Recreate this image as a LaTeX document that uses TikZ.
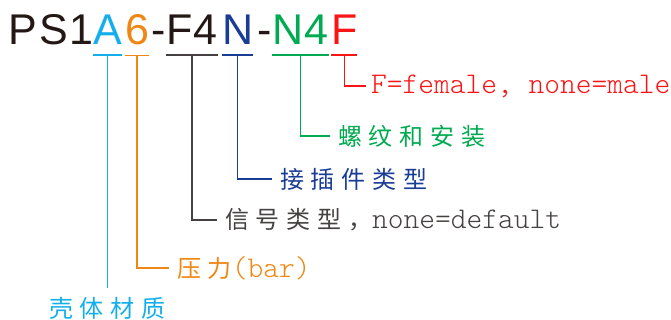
\documentclass[tikz,border=0pt]{standalone}
\usepackage{fontspec}
\newfontfamily\titlefont[LetterSpace=4]{Liberation Sans}
\newfontfamily\cjk[LetterSpace=28]{Noto Sans CJK SC}
\newfontfamily\monolt{Latin Modern Mono Light}
\newcommand\lat[1]{{\monolt\fontsize{30}{30}\selectfont #1}}
\definecolor{cink}{RGB}{35,24,21}
\definecolor{cgray}{RGB}{70,65,65}
\definecolor{ccyan}{RGB}{20,175,235}
\definecolor{corange}{RGB}{240,135,20}
\definecolor{cnavy}{RGB}{25,60,150}
\definecolor{cgreen}{RGB}{0,170,80}
\definecolor{cred}{RGB}{250,20,20}
\tikzset{
 seg/.style={inner sep=0pt,outer sep=0pt,anchor=base west,
  font=\titlefont\fontsize{43}{43}\selectfont},
 lbl/.style={inner xsep=8pt,inner ysep=2pt,anchor=west,
  font=\cjk\fontsize{24}{24}\selectfont},
 link/.style={line width=1.2pt}
}
\begin{document}
\begin{tikzpicture}[x=1pt,y=-1pt]
 \useasboundingbox (0,0) rectangle (671,320);
 % title code
 \node[seg,text=cink] (tPS) at (9,45) {PS1};
 \node[seg,text=ccyan] (tA) at (93,45) {A};
 \node[seg,text=corange] (t6) at (125,45) {6};
 \node[seg,text=cink] (tD1) at (151,45) {-};
 \node[seg,text=cink] (tF4) at (166,45) {F4};
 \node[seg,text=cnavy] (tN) at (222,45) {N};
 \node[seg,text=cink] (tD2) at (257,45) {-};
 \node[seg,text=cgreen] (tN4) at (272,45) {N4};
 \node[seg,text=cred] (tF) at (331,45) {F};
 % underlines
 \foreach \s/\c in {A/ccyan,6/corange,F4/cgray,N/cnavy,N4/cgreen,F/cred}{
  \draw[link,\c] ([yshift=-10pt]t\s.south west) -- ([yshift=-10pt]t\s.south east);
  \coordinate (u\s) at ([yshift=-10pt]t\s.south);
 }
 % labels
 \node[lbl,inner xsep=5pt,text=cred] (lF) at (366,86) {\lat{F=female, none=male}};
 \node[lbl,text=cgreen] (lN4) at (330,136) {螺纹和安装};
 \node[lbl,text=cnavy] (lN) at (272,179) {接插件类型};
 \node[lbl,text=cgray] (lF4) at (217,220) {信号类型，\lat{none=default}};
 \node[lbl,text=corange] (l6) at (169,268) {压力\lat{(bar)}};
 \node[lbl,anchor=north,inner ysep=9pt,text=ccyan] (lA) at (uA |- 0,288) {壳体材质};
 % connectors
 \draw[link,cred] (uF) |- (lF.west);
 \draw[link,cgreen] (uN4) |- (lN4.west);
 \draw[link,cnavy] (uN) |- (lN.west);
 \draw[link,cgray] (uF4) |- (lF4.west);
 \draw[link,corange] (u6) |- (l6.west);
 \draw[link,ccyan] (uA) -- (lA.north);
\end{tikzpicture}
\end{document}
